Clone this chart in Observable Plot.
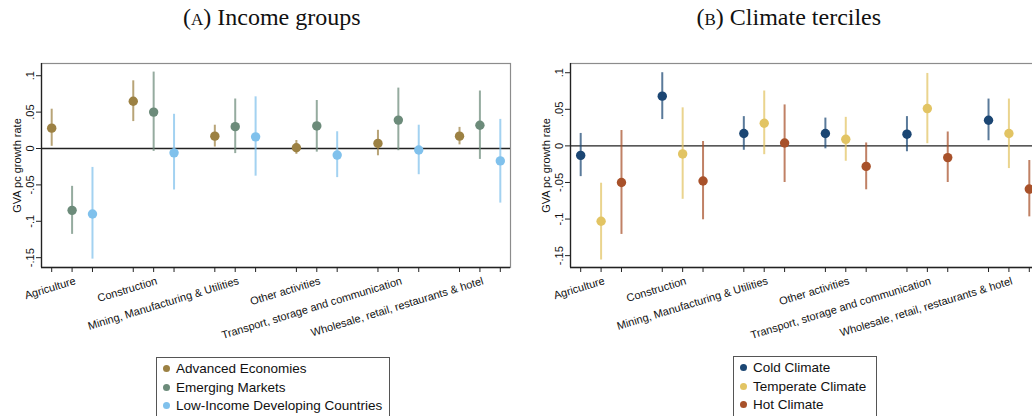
<!DOCTYPE html>
<html>
<head>
<meta charset="utf-8">
<script src="https://cdn.jsdelivr.net/npm/d3@7"></script>
<script src="https://cdn.jsdelivr.net/npm/@observablehq/plot@0.6"></script>
<style>
  body { margin: 0; background: #fff; }
  #root { position: relative; width: 1032px; height: 416px; overflow: hidden; background: #fff; }
  .title { position: absolute; top: 4px; font-family: "Liberation Serif", "DejaVu Serif", serif; font-size: 24px; color: #111; text-align: center; white-space: nowrap; }
  .sc { font-variant: small-caps; }
  .panel { position: absolute; top: 0; }
  .legend { position: absolute; border: 1px solid #555; font-family: "Liberation Sans", Arial, sans-serif; font-size: 13.5px; color: #111; background: #fff; padding: 2px 8px 10px 6px; }
  .legend div { height: 18.5px; line-height: 18.5px; white-space: nowrap; }
  .legend span.dot { display: inline-block; width: 7px; height: 7px; border-radius: 50%; margin-right: 6px; vertical-align: 1px; }
</style>
</head>
<body>
<div id="root"></div>
<script>
// ---- Data ----
const categories = ["Agriculture", "Construction", "Mining, Manufacturing & Utilities", "Other activities", "Transport, storage and communication", "Wholesale, retail, restaurants & hotel"];

// Panel A: income groups
const incomeGroups = ["Advanced Economies", "Emerging Markets", "Low-Income Developing Countries"];
const incomeColors = ["#9c8143", "#6c8b7a", "#80c1ec"];
const aeEst   = [0.028, 0.065, 0.017, 0.001, 0.007, 0.017];
const aeLo    = [0.003, 0.037, 0.002, -0.008, -0.010, 0.005];
const aeHi    = [0.054, 0.093, 0.032, 0.011, 0.025, 0.029];
const emEst   = [-0.085, 0.050, 0.030, 0.031, 0.039, 0.032];
const emLo    = [-0.118, -0.004, -0.007, -0.005, -0.003, -0.015];
const emHi    = [-0.052, 0.105, 0.068, 0.066, 0.083, 0.079];
const lidcEst = [-0.090, -0.006, 0.016, -0.009, -0.002, -0.017];
const lidcLo  = [-0.152, -0.057, -0.038, -0.040, -0.036, -0.075];
const lidcHi  = [-0.026, 0.047, 0.071, 0.023, 0.032, 0.040];

// Panel B: climate terciles
const climateGroups = ["Cold Climate", "Temperate Climate", "Hot Climate"];
const climateColors = ["#1b4673", "#e2c463", "#a8512a"];
const coldEst = [-0.013, 0.068, 0.017, 0.017, 0.016, 0.035];
const coldLo  = [-0.042, 0.036, -0.006, -0.004, -0.008, 0.007];
const coldHi  = [0.017, 0.100, 0.040, 0.038, 0.040, 0.064];
const tempEst = [-0.103, -0.011, 0.031, 0.009, 0.051, 0.017];
const tempLo  = [-0.156, -0.073, -0.012, -0.021, 0.003, -0.031];
const tempHi  = [-0.051, 0.052, 0.075, 0.039, 0.099, 0.064];
const hotEst  = [-0.050, -0.048, 0.004, -0.028, -0.016, -0.059];
const hotLo   = [-0.121, -0.101, -0.050, -0.060, -0.050, -0.097];
const hotHi   = [0.021, 0.006, 0.056, 0.004, 0.019, -0.020];

const yTicks = [-0.15, -0.1, -0.05, 0, 0.05, 0.1];
const yLabel = "GVA pc growth rate";

// ---- Helpers ----
function rows(groups, series) {
  const out = [];
  series.forEach(([est, lo, hi], g) => {
    categories.forEach((c, i) => {
      out.push({category: c, group: groups[g], pos: i * 4 + g + 1, est: est[i], lo: lo[i], hi: hi[i]});
    });
  });
  return out;
}
const fmt = d => d === 0 ? "0" : (d < 0 ? "-" : "") + String(+Math.abs(d).toFixed(2)).replace(/^0/, "");
const positions = categories.flatMap((c, i) => [i * 4 + 1, i * 4 + 2, i * 4 + 3]);

function panel(data, groups, colors, yDomain) {
  return Plot.plot({
    width: 520, height: 340,
    marginLeft: 41, marginRight: 10, marginTop: 63, marginBottom: 73,
    x: {domain: [0.5, 23.5], axis: null},
    y: {domain: yDomain, axis: null},
    color: {domain: groups, range: colors},
    style: {fontFamily: "'Liberation Sans', Arial, sans-serif", fontSize: "11px", background: "transparent", color: "#111"},
    marks: [
      Plot.frame({stroke: "#8c8c8c", strokeWidth: 1.2}),
      Plot.ruleX([0.5], {stroke: "#222", strokeWidth: 1.3}),
      Plot.ruleY([yDomain[0]], {stroke: "#222", strokeWidth: 1.3}),
      Plot.ruleY([0], {stroke: "#222", strokeWidth: 1.3}),
      Plot.ruleX(data, {x: "pos", y1: "lo", y2: "hi", stroke: "group", strokeWidth: 2, strokeOpacity: 0.72}),
      Plot.dot(data, {x: "pos", y: "est", fill: "group", r: 4.7}),
      Plot.axisY({ticks: yTicks, tickSize: 5, tickPadding: 3, tickFormat: fmt, tickRotate: -90, label: null, stroke: "#222", fontSize: 11}),
      Plot.axisX({ticks: positions, tickSize: 5, tickFormat: () => "", label: null, stroke: "#222"}),
      Plot.text(categories, {x: (d, i) => i * 4 + 2, frameAnchor: "bottom", dy: 9, dx: 2, rotate: -17, textAnchor: "end", lineAnchor: "top", fontSize: 11, fill: "#111"}),
      Plot.text([yLabel], {frameAnchor: "left", dx: -21, rotate: -90, lineAnchor: "bottom", textAnchor: "middle", fontSize: 11, fill: "#111"})
    ]
  });
}

const root = document.getElementById("root");

function addTitle(html, center) {
  const t = document.createElement("div");
  t.className = "title";
  t.innerHTML = html;
  root.appendChild(t);
  t.style.left = (center - t.offsetWidth / 2) + "px";
}
function addLegend(groups, colors, left, top, width) {
  const l = document.createElement("div");
  l.className = "legend";
  l.style.left = left + "px";
  l.style.top = top + "px";
  l.style.width = width + "px";
  groups.forEach((g, i) => {
    const d = document.createElement("div");
    d.innerHTML = `<span class="dot" style="background:${colors[i]}"></span>${g}`;
    l.appendChild(d);
  });
  root.appendChild(l);
}

const dataA = rows(incomeGroups, [[aeEst, aeLo, aeHi], [emEst, emLo, emHi], [lidcEst, lidcLo, lidcHi]]);
const dataB = rows(climateGroups, [[coldEst, coldLo, coldHi], [tempEst, tempLo, tempHi], [hotEst, hotLo, hotHi]]);

const pA = panel(dataA, incomeGroups, incomeColors, [-0.1635, 0.1168]);
pA.classList.add("panel"); pA.style.left = "0px";
root.appendChild(pA);
const pB = panel(dataB, climateGroups, climateColors, [-0.1662, 0.1126]);
pB.classList.add("panel"); pB.style.left = "529px";
root.appendChild(pB);

addTitle('(<span class="sc">a</span>) Income groups', 272);
addTitle('(<span class="sc">b</span>) Climate terciles', 789);
addLegend(incomeGroups, incomeColors, 156, 357, 218);
addLegend(climateGroups, climateColors, 733, 356, 128);
</script>
</body>
</html>
